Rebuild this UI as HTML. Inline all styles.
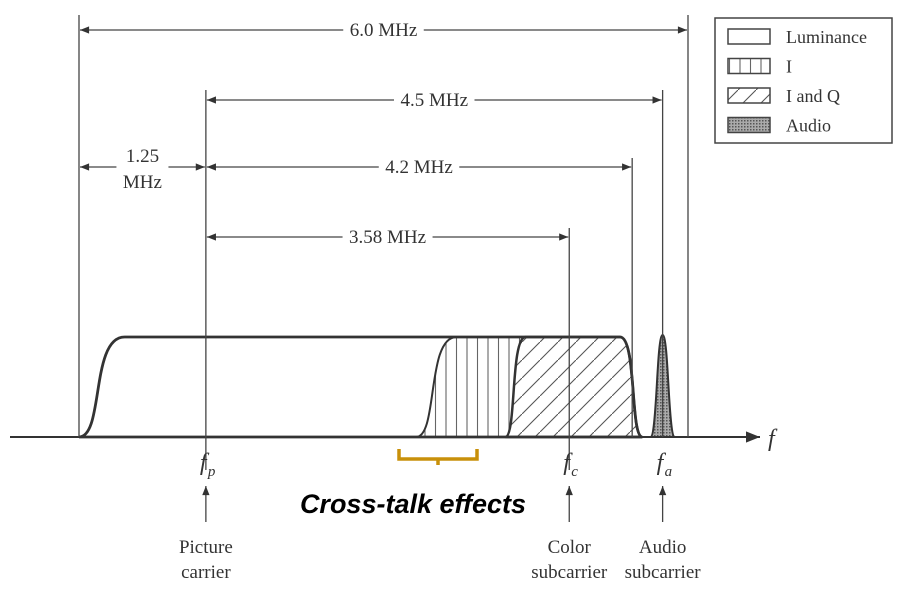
<!DOCTYPE html>
<html><head><meta charset="utf-8"><style>
body{margin:0;background:#fff}
svg{display:block;font-family:"Liberation Serif",serif}
</style></head><body>
<svg id="c" width="900" height="599" viewBox="0 0 900 599">
<defs>
<marker id="ah" viewBox="0 0 10 10" refX="10" refY="5" markerWidth="9" markerHeight="7" orient="auto-start-reverse"><path d="M0,1 L10,5 L0,9 Z" fill="#333"/></marker>
<pattern id="vhatch" width="10.5" height="10" patternUnits="userSpaceOnUse"><line x1="5" y1="0" x2="5" y2="10" stroke="#666" stroke-width="1.1"/></pattern>
<pattern id="dhatch" width="18" height="18" patternUnits="userSpaceOnUse"><line x1="0" y1="18" x2="18" y2="0" stroke="#555" stroke-width="1.1"/></pattern>
<pattern id="dots" width="3" height="3" patternUnits="userSpaceOnUse"><rect width="3" height="3" fill="#aaa"/><rect width="1.5" height="1.5" fill="#555"/></pattern>
</defs>
<g id="g"></g>
</svg>
<script>
// frequencies in MHz relative to channel lower edge
const markerFreqs = [0, 1.25, 4.83, 5.45, 5.75, 6.0];
const dimLabels = ["6.0 MHz","4.5 MHz","4.2 MHz","3.58 MHz","1.25 MHz"];
const dimStart = [0, 1.25, 1.25, 1.25, 0];
const dimEnd = [6.0, 5.75, 5.45, 4.83, 1.25];
const lumaBand = [0, 0.45, 5.33, 5.55];   // rise start, rise end, fall start, fall end
const iBand = [3.32, 3.72];              // I rise
const iqBand = [4.2, 4.4];               // I and Q rise
const audioPeak = [5.75, 0.12];          // center, half-width
const legendLabels = ["Luminance","I","I and Q","Audio"];

const X0=79, PX=101.5, BASE=437, TOP=337;
const x = f => X0 + f*PX;
const svg = document.getElementById('g');
const NS='http://www.w3.org/2000/svg';
function mk(tag, attrs, parent){const e=document.createElementNS(NS,tag);for(const k in attrs)e.setAttribute(k,attrs[k]);(parent||svg).appendChild(e);return e;}

let ax=mk('line',{x1:10,y1:BASE,x2:760,y2:BASE,stroke:'#333','stroke-width':2,'marker-end':'url(#ah)'});


let ft=mk('text',{x:768,y:446,'font-size':24,'font-style':'italic',fill:'#333'});ft.textContent='f';



function bandPath(a,b,c,d){
  const xa=x(a),xb=x(b),xc=x(c),xd=x(d);
  return `M${xa},${BASE} C${xa+(xb-xa)*0.55},${BASE} ${xa+(xb-xa)*0.25},${TOP} ${xb},${TOP} L${xc},${TOP} C${xc+(xd-xc)*0.75},${TOP} ${xc+(xd-xc)*0.45},${BASE} ${xd},${BASE} Z`;
}
let ip=mk('path',{d:bandPath(iBand[0],iBand[1],lumaBand[2],lumaBand[3]),fill:'url(#vhatch)',stroke:'none'});


let iq=mk('path',{d:bandPath(iqBand[0],iqBand[1],lumaBand[2],lumaBand[3]),fill:'#fff',stroke:'none'});


let iq2=mk('path',{d:bandPath(iqBand[0],iqBand[1],lumaBand[2],lumaBand[3]),fill:'url(#dhatch)',stroke:'#333','stroke-width':2.5});


let ie=mk('path',{d:bandPath(iBand[0],iBand[1],lumaBand[2],lumaBand[3]),fill:'none',stroke:'#333','stroke-width':2});


let lp=mk('path',{d:bandPath(lumaBand[0],lumaBand[1],lumaBand[2],lumaBand[3]),fill:'none',stroke:'#333','stroke-width':2.8});


const ac=x(audioPeak[0]), aw=audioPeak[1]*PX;
let au=mk('path',{d:`M${ac-aw},${BASE} C${ac-aw*0.45},${BASE} ${ac-aw*0.5},${TOP-2} ${ac},${TOP-2} C${ac+aw*0.5},${TOP-2} ${ac+aw*0.45},${BASE} ${ac+aw},${BASE} Z`,fill:'url(#dots)',stroke:'#333','stroke-width':2});



const vTop=[15,90,228,158,90,15], vBot=[BASE,470,470,BASE,BASE,BASE];
markerFreqs.forEach((f,i)=>{
  const l=mk('line',{x1:x(f),y1:vTop[i],x2:x(f),y2:vBot[i],stroke:'#444','stroke-width':1.3});
  
  
});

const dimY=[30,100,167,237,167];
dimLabels.forEach((lab,i)=>{
  const x1=x(dimStart[i]),x2=x(dimEnd[i]),y=dimY[i];
  const l=mk('line',{x1:x1+1,y1:y,x2:x2-1,y2:y,stroke:'#444','stroke-width':1.3,'marker-start':'url(#ah)','marker-end':'url(#ah)'});
  
  
  const cx=(x1+x2)/2;
  if(i<4){
    const w=lab.length*9.5+14;
    mk('rect',{x:cx-w/2,y:y-12,width:w,height:24,fill:'#fff'});
    const t=mk('text',{x:cx,y:y+6,'font-size':19,'text-anchor':'middle',fill:'#333'});t.textContent=lab;
    
    
  } else {
    mk('rect',{x:cx-26,y:y-28,width:52,height:56,fill:'#fff'});
    const parts=lab.split(' ');
    const t=mk('text',{x:cx,y:y-5,'font-size':19,'text-anchor':'middle',fill:'#333'});t.textContent=parts[0];
    
    
    const t2=mk('text',{x:cx,y:y+21,'font-size':19,'text-anchor':'middle',fill:'#333'});t2.textContent=parts[1];
    
    
  }
});

const subFreq=[1.25,4.83,5.75], subs=['p','c','a'];
const caps=[["Picture","carrier"],["Color","subcarrier"],["Audio","subcarrier"]];
subFreq.forEach((f,i)=>{
  const cx=x(f);
  const t=mk('text',{x:cx-6,y:470,'font-size':24,'font-style':'italic',fill:'#333'});t.textContent='f';
  
  
  const s=mk('text',{x:cx+2,y:476,'font-size':15,'font-style':'italic',fill:'#333'});s.textContent=subs[i];
  
  
  const a=mk('line',{x1:cx,y1:522,x2:cx,y2:486,stroke:'#444','stroke-width':1.3,'marker-end':'url(#ah)'});
  
  
  caps[i].forEach((c,j)=>{
    const ct=mk('text',{x:cx,y:553+j*25,'font-size':19,'text-anchor':'middle',fill:'#333'});ct.textContent=c;
    
    
  });
});

let br=mk('path',{d:'M399,449 L399,459 L477,459 L477,449 M438,459 L438,465',fill:'none',stroke:'#c8900a','stroke-width':3.5});


let ct=mk('text',{x:413,y:513,'font-size':27,'font-weight':'bold','font-style':'italic','text-anchor':'middle','font-family':'Liberation Sans, sans-serif',fill:'#000'});
ct.textContent='Cross-talk effects';



const lg=mk('g',{});


mk('rect',{x:715,y:18,width:177,height:125,fill:'#fff',stroke:'#444','stroke-width':1.5},lg);
const fills=['#fff','url(#vhatch)','url(#dhatch)','url(#dots)'];
legendLabels.forEach((lab,i)=>{
  const y=29+i*29.5;
  const r=mk('rect',{x:728,y:y,width:42,height:15,fill:fills[i],stroke:'#444','stroke-width':1.5},lg);
  
  
  const t=mk('text',{x:786,y:y+14,'font-size':18,fill:'#333'},lg);t.textContent=lab;
  
  
});
</script>
</body></html>
